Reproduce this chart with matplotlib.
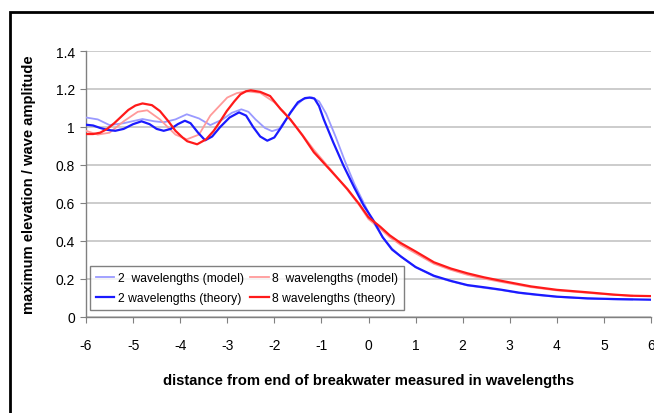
import matplotlib
matplotlib.use("Agg")
import matplotlib.pyplot as plt
from matplotlib.patches import Rectangle

plt.rcParams['font.family'] = ['Liberation Sans', 'DejaVu Sans']

# 2 wavelengths (theory)
x_b_th = [-6, -5.85, -5.7, -5.55, -5.38, -5.2, -5.0, -4.82, -4.65, -4.5, -4.35, -4.2, -4.05, -3.9,
          -3.78, -3.62, -3.47, -3.32, -3.15, -2.95, -2.75, -2.6, -2.45, -2.3, -2.15, -2.0, -1.85,
          -1.66, -1.5, -1.35, -1.25, -1.15, -1.05, -0.95, -0.75, -0.53, -0.3, -0.1, 0.1, 0.3,
          0.5, 0.68, 1.0, 1.39, 1.75, 2.1, 2.5, 2.81, 3.2, 3.6, 4.0, 4.65, 5.3, 6.0]
y_b_th = [1.012, 1.008, 0.995, 0.985, 0.98, 0.99, 1.015, 1.03, 1.015, 0.99, 0.98, 0.99, 1.015, 1.033,
          1.02, 0.97, 0.93, 0.95, 1.0, 1.05, 1.077, 1.06, 1.0, 0.95, 0.928, 0.945, 1.0,
          1.075, 1.13, 1.152, 1.155, 1.15, 1.11, 1.04, 0.92, 0.796, 0.68, 0.586, 0.51, 0.42,
          0.355, 0.32, 0.263, 0.217, 0.19, 0.168, 0.155, 0.144, 0.128, 0.117, 0.107, 0.098, 0.094, 0.091]

# 2 wavelengths (model)
x_b_mo = [-6, -5.75, -5.5, -5.2, -4.8, -4.55, -4.35, -4.1, -3.86, -3.6, -3.36, -3.1, -2.9,
          -2.7, -2.55, -2.4, -2.2, -2.05, -1.9, -1.75, -1.55, -1.38, -1.2, -1.05, -0.9, -0.7,
          -0.5, -0.3, -0.1, 0.1, 0.3, 0.5, 0.7, 1.0, 1.39, 1.75, 2.1, 2.5, 2.81, 3.2, 3.6, 4.0,
          4.65, 5.2, 5.6]
y_b_mo = [1.05, 1.04, 1.01, 1.02, 1.042, 1.03, 1.025, 1.04, 1.067, 1.045, 1.01, 1.04, 1.075,
          1.093, 1.08, 1.04, 0.995, 0.978, 0.99, 1.04, 1.11, 1.148, 1.156, 1.135, 1.07, 0.95,
          0.82, 0.7, 0.6, 0.5, 0.42, 0.36, 0.315, 0.262, 0.214, 0.188, 0.166, 0.152, 0.142, 0.126,
          0.115, 0.106, 0.097, 0.093, 0.092]

# 8 wavelengths (theory)
x_r_th = [-6, -5.85, -5.7, -5.55, -5.4, -5.25, -5.1, -4.95, -4.8, -4.6, -4.43, -4.25, -4.1, -3.95,
          -3.85, -3.64, -3.45, -3.29, -3.15, -3.01, -2.85, -2.72, -2.6, -2.5, -2.3, -2.09, -1.87,
          -1.66, -1.4, -1.16, -0.8, -0.45, -0.2, 0, 0.25, 0.45, 0.68, 1.0, 1.39, 1.75, 2.1, 2.45,
          2.81, 3.15, 3.45, 4.0, 4.65, 5.2, 5.57, 6.0]
y_r_th = [0.963, 0.963, 0.97, 0.99, 1.02, 1.055, 1.09, 1.113, 1.124, 1.115, 1.084, 1.03, 0.98, 0.945,
          0.925, 0.909, 0.935, 0.979, 1.03, 1.084, 1.135, 1.172, 1.188, 1.193, 1.185, 1.163, 1.095,
          1.04, 0.955, 0.867, 0.77, 0.674, 0.595, 0.525, 0.475, 0.43, 0.39, 0.345, 0.288, 0.255, 0.23,
          0.209, 0.191, 0.175, 0.161, 0.143, 0.13, 0.118, 0.112, 0.11]

# 8 wavelengths (model)
x_r_mo = [-6, -5.75, -5.5, -5.2, -4.9, -4.7, -4.43, -4.1, -3.86, -3.6, -3.36, -3.0, -2.8, -2.6,
          -2.3, -2.0, -1.8, -1.5, -1.16, -0.8, -0.45, -0.2, 0, 0.25, 0.45, 0.68, 1.0, 1.39, 1.75,
          2.1, 2.45, 2.81, 3.15, 3.45, 4.0, 4.65, 5.2, 5.6]
y_r_mo = [0.98, 0.96, 0.97, 1.03, 1.08, 1.088, 1.04, 0.96, 0.935, 0.96, 1.06, 1.155, 1.178, 1.188,
          1.18, 1.13, 1.08, 0.99, 0.88, 0.775, 0.67, 0.59, 0.515, 0.465, 0.42, 0.38, 0.335, 0.28,
          0.248, 0.222, 0.202, 0.185, 0.17, 0.157, 0.14, 0.127, 0.117, 0.112]

x_ticks = [-6, -5, -4, -3, -2, -1, 0, 1, 2, 3, 4, 5, 6]
y_ticks = [0, 0.2, 0.4, 0.6, 0.8, 1.0, 1.2, 1.4]
y_tick_labels = ["0", "0.2", "0.4", "0.6", "0.8", "1", "1.2", "1.4"]

fig = plt.figure(figsize=(6.54, 4.14), dpi=100)
ax = fig.add_axes([86/654, 1 - 318/414, (651-86)/654, (318-52)/414])

ax.plot(x_b_mo, y_b_mo, color='#9a9aff', lw=1.3, label='2  wavelengths (model)', zorder=3)
ax.plot(x_b_th, y_b_th, color='#1a1aff', lw=1.6, label='2 wavelengths (theory)', zorder=4)
ax.plot(x_r_mo, y_r_mo, color='#ff9a9a', lw=1.3, label='8  wavelengths (model)', zorder=3)
ax.plot(x_r_th, y_r_th, color='#ff1a1a', lw=1.6, label='8 wavelengths (theory)', zorder=4)

ax.set_xlim(-6, 6)
ax.set_ylim(0, 1.4)
ax.set_xticks(x_ticks)
ax.set_xticklabels([str(v) for v in x_ticks])
ax.set_yticks(y_ticks)
ax.set_yticklabels(y_tick_labels)
ax.grid(axis='y', color='#c8c8c8', lw=1.3)
ax.set_axisbelow(True)
for s in ['top', 'right']:
    ax.spines[s].set_visible(False)
for s in ['left', 'bottom']:
    ax.spines[s].set_color('#808080')
    ax.spines[s].set_linewidth(1.0)
ax.tick_params(axis='x', direction='out', length=4, color='#808080', pad=11, labelsize=10)
ax.tick_params(axis='y', direction='out', length=4, color='#808080', pad=4, labelsize=10)

ax.set_xlabel('distance from end of breakwater measured in wavelengths', fontweight='bold',
              fontsize=10.6, labelpad=15)
ax.set_ylabel('maximum elevation / wave amplitude', fontweight='bold', fontsize=10.6, labelpad=14)

h, l = ax.get_legend_handles_labels()
order = [0, 1, 2, 3]
leg = ax.legend([h[i] for i in order], [l[i] for i in order], ncol=2, loc='lower left',
                bbox_to_anchor=(4/565, 0.025), fontsize=8.7, frameon=True, fancybox=False,
                edgecolor='#606060', handlelength=1.5, handletextpad=0.3, columnspacing=0.55,
                borderpad=0.5, labelspacing=0.65, borderaxespad=0)
leg.get_frame().set_linewidth(1.0)

fig.patches.append(Rectangle((10/654, -0.1), 1.2, 1 - 13/414 + 0.1, transform=fig.transFigure,
                             fill=False, edgecolor='black', lw=2.0))

fig.savefig('out.png', dpi=100)
